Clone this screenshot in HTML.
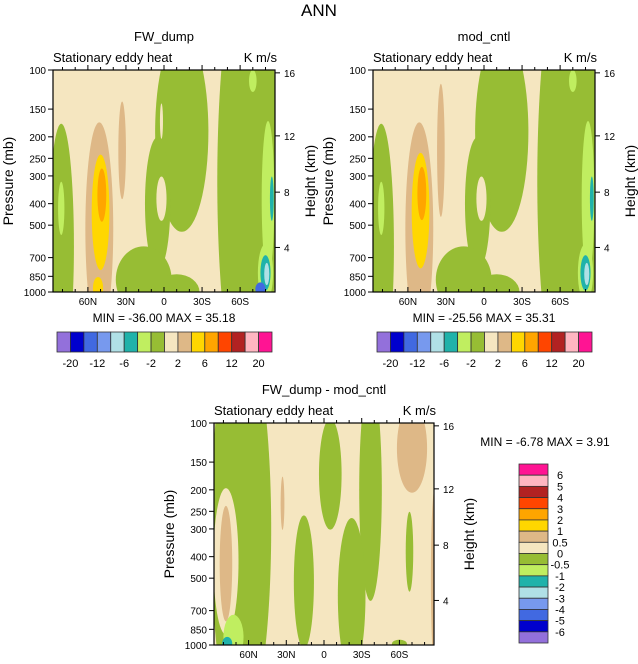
<!DOCTYPE html>
<html><head><meta charset="utf-8"><style>
html,body{margin:0;background:#fff;overflow:hidden;width:638px;height:664px;}
svg{display:block;}
svg text{font-family:"Liberation Sans","DejaVu Sans",sans-serif;fill:#000;}
</style></head><body>
<svg id="chart" width="638" height="664" viewBox="0 0 638 664" xmlns="http://www.w3.org/2000/svg">
<text x="319" y="16" font-size="17" text-anchor="middle" fill="#222">ANN</text>
</svg>
<script>
const palette=["#9370db","#0000cd","#4169e1","#7799ee","#b0e0e6","#20b2aa","#c0ee60","#97bd34","#f5e6c0","#deb887","#ffd700","#ffa500","#ff4500","#b22222","#ffb6c1","#ff1493"];
const latTicks=[60,30,0,-30,-60];
const latTickLabels=["60N","30N","0","30S","60S"];
const presTicks=[100,150,200,250,300,400,500,700,850,1000];
const heightTicks=[16,12,8,4];
const heightPres=[103,198,355,630];
const cbLabelsTop=["-20","-12","-6","-2","2","6","12","20"];
const cbLabelsDiff=["6","5","4","3","2","1","0.5","0","-0.5","-1","-2","-3","-4","-5","-6"];
// blobs: [lat, pressure(mb), lat half-width(deg), half-span(decades), colour index]
const blobs1=[[81,620,10,0.55,7],[81,420,2.5,0.12,6],[51,520,11,0.48,9],[33,230,3,0.22,9],[50,438,7,0.26,10],[49,366,3.5,0.12,11],[52,960,4,0.05,10],[-14,190,21,0.45,7],[5,400,10,0.3,7],[2,380,4,0.1,8],[2,170,1.2,0.08,8],[16,880,22,0.15,7],[-10,1000,18,0.08,7],[-66,316,24,1.0,7],[-82,380,5,0.35,6],[-85,380,1.5,0.1,5],[-80,820,6,0.13,6],[-80,820,4,0.08,5],[-81,830,2,0.05,4],[-76,970,4,0.03,2],[-70,112,3,0.05,6]];
const blobs2=[[81,620,10,0.55,7],[81,420,2.5,0.12,6],[51,520,11,0.48,9],[34,230,3,0.3,9],[50,430,7,0.26,10],[49,360,3.5,0.12,11],[-14,190,21,0.45,7],[5,400,10,0.3,7],[2,380,4,0.1,8],[16,880,22,0.15,7],[-10,1000,18,0.08,7],[-66,316,24,1.0,7],[-82,380,5,0.35,6],[-85,380,1.5,0.1,5],[-80,820,6,0.13,6],[-80,820,4,0.08,5],[-81,830,2,0.05,4],[-70,112,3,0.05,6]];
const blobs3=[[66,300,24,0.9,7],[78,420,10,0.33,8],[78,430,5,0.26,9],[72,920,8,0.1,6],[77,985,4,0.03,5],[-5,170,9,0.25,7],[16,520,8,0.3,7],[-37,200,9,0.5,7],[-22,600,11,0.35,7],[33,230,1.5,0.12,9],[-70,130,12,0.2,9],[-68,380,3,0.18,7],[-88,500,3,0.4,9],[-60,990,6,0.02,7]];
const svg=document.getElementById('chart');
const NS="http://www.w3.org/2000/svg";
function mk(tag,attrs,parent){const e=document.createElementNS(NS,tag);for(const k in attrs)e.setAttribute(k,attrs[k]);(parent||svg).appendChild(e);return e;}
function panel(id,x0,y0,w,h,title,blobs){
 const g=mk('g',{});
 
 
 const xS=lat=>x0+w/2-lat*(w/175);
 const yS=p=>y0+Math.log10(p/100)*h;
 const cp=mk('clipPath',{id:id+'-clip'},g);
 mk('rect',{x:x0,y:y0,width:w,height:h},cp);
 const bg=mk('rect',{x:x0,y:y0,width:w,height:h,fill:palette[8]},g);
 
 
 const fg=mk('g',{'clip-path':'url(#'+id+'-clip)'},g);
 blobs.forEach(b=>{
  const e=mk('ellipse',{cx:xS(b[0]),cy:yS(b[1]),rx:b[2]*(w/175),ry:b[3]*h,fill:palette[b[4]]},fg);
  
  
 });
 const fr=mk('rect',{x:x0,y:y0,width:w,height:h,fill:'none',stroke:'#000','stroke-width':1.2},g);
 
 
 for(let lat=-80;lat<=80;lat+=10){const mj=lat%30===0;const x=xS(lat);
  mk('line',{x1:x,x2:x,y1:y0+h,y2:y0+h-(mj?5:3),stroke:'#000'},g);
  mk('line',{x1:x,x2:x,y1:y0,y2:y0-(mj?5:3),stroke:'#000'},g);}
 latTicks.forEach((l,i)=>{const t=mk('text',{x:xS(l),y:y0+h+13,'font-size':10,'text-anchor':'middle'},g);t.textContent=latTickLabels[i];
  });
 presTicks.forEach(p=>{const y=yS(p);mk('line',{x1:x0,x2:x0-5,y1:y,y2:y,stroke:'#000'},g);
  const t=mk('text',{x:x0-7,y:y+4,'font-size':10,'text-anchor':'end'},g);t.textContent=p;
  });
 heightTicks.forEach((hk,i)=>{const y=yS(heightPres[i]);mk('line',{x1:x0+w,x2:x0+w+5,y1:y,y2:y,stroke:'#000'},g);
  const t=mk('text',{x:x0+w+9,y:y+4,'font-size':10},g);t.textContent=hk;
  });
 let t=mk('text',{x:x0-40,y:y0+h/2,'font-size':14,'text-anchor':'middle',fill:'#444',transform:`rotate(-90 ${x0-40} ${y0+h/2})`},g);t.textContent='Pressure (mb)';
 
 t=mk('text',{x:x0+w+40,y:y0+h/2,'font-size':14,'text-anchor':'middle',fill:'#666',transform:`rotate(-90 ${x0+w+40} ${y0+h/2})`},g);t.textContent='Height (km)';
 
 t=mk('text',{x:x0+w/2,y:y0-29,'font-size':13,'text-anchor':'middle',fill:'#333'},g);t.textContent=title;
 
 t=mk('text',{x:x0,y:y0-8,'font-size':13,fill:'#222'},g);t.textContent='Stationary eddy heat';
 
 t=mk('text',{x:x0+w+2,y:y0-8,'font-size':13,'text-anchor':'end',fill:'#222'},g);t.textContent='K m/s';
 
}
panel('panel-fw-dump',53,70,222,222,'FW_dump',blobs1);
panel('panel-mod-cntl',373,70,222,222,'mod_cntl',blobs2);
panel('panel-difference',214,423,220,222,'FW_dump - mod_cntl',blobs3);
function stats(x,y,txt){const t=mk('text',{x:x,y:y,'font-size':12,'text-anchor':'middle',fill:'#222','xml:space':'preserve'});t.textContent=txt;
 }
stats(164,322,'MIN =  -36.00   MAX =   35.18');
stats(484,322,'MIN =  -25.56   MAX =   35.31');
stats(545,446,'MIN =  -6.78   MAX =    3.91');
function hbar(x0,y0){const n=16;const cw=215/n;
 for(let i=0;i<n;i++){const r=mk('rect',{x:x0+i*cw,y:y0,width:cw,height:20,fill:palette[i],stroke:'#333','stroke-width':0.8});
  }
 cbLabelsTop.forEach((l,i)=>{const t=mk('text',{x:x0+(2*i+1)*cw,y:y0+35,'font-size':11,'text-anchor':'middle'});t.textContent=l;
  });}
hbar(57,332);hbar(377,332);
(function(){const x0=519,y0=464,w=29,n=16,ch=179/n;
 for(let i=0;i<n;i++){const r=mk('rect',{x:x0,y:y0+i*ch,width:w,height:ch,fill:palette[n-1-i],stroke:'#333','stroke-width':0.8});
  }
 cbLabelsDiff.forEach((l,i)=>{const t=mk('text',{x:x0+w+12,y:y0+(i+1)*ch+4,'font-size':11,'text-anchor':'middle'});t.textContent=l;
  });})();
</script>
</body></html>
